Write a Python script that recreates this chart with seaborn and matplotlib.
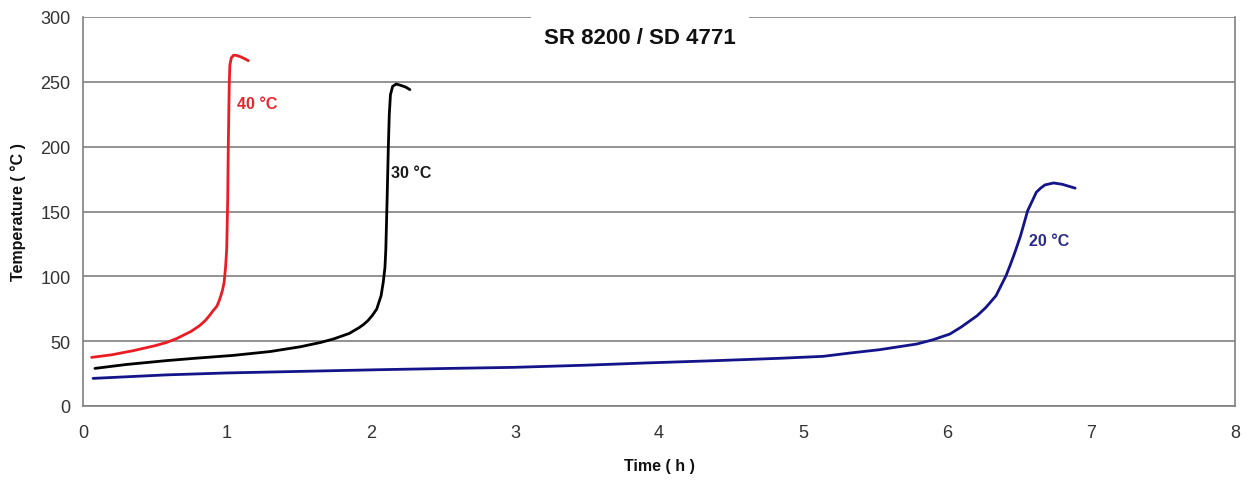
import matplotlib
matplotlib.use("Agg")
import matplotlib.pyplot as plt
import seaborn as sns
import pandas as pd

# ---- data ----
x_40 = [0.06, 0.2, 0.35, 0.5, 0.58, 0.65, 0.75, 0.81, 0.85, 0.88, 0.9, 0.93, 0.945, 0.96,
        0.97, 0.98, 0.99, 0.998, 1.005, 1.009, 1.013, 1.016, 1.02, 1.03, 1.045, 1.06,
        1.09, 1.12, 1.148]
y_40 = [37.5, 39.5, 42.7, 46.5, 49, 52, 57.5, 62, 66, 70, 73, 77, 81, 86,
        90, 95.4, 107, 121, 160, 200, 230, 250, 263, 268.5, 270.5, 270.5,
        269.5, 268, 266.3]

x_30 = [0.083, 0.3, 0.58, 0.8, 1.04, 1.3, 1.51, 1.65, 1.74, 1.85, 1.88, 1.92, 1.95, 1.98,
        2.01, 2.04, 2.055, 2.07, 2.085, 2.097, 2.103, 2.112, 2.12, 2.127, 2.135, 2.15,
        2.175, 2.2, 2.24, 2.27]
y_30 = [29, 32, 35, 37, 39, 42, 45.7, 49, 51.7, 56, 58, 60.6, 63, 66,
        70, 74.8, 80, 85, 95.4, 107, 121, 160, 198, 225, 240, 246.5,
        248.3, 247.5, 246, 244]

x_20 = [0.07, 0.58, 1.0, 1.51, 2.06, 2.55, 2.99, 3.5, 3.91, 4.4, 4.84, 5.14, 5.33,
        5.53, 5.79, 5.9, 6.02, 6.1, 6.21, 6.27, 6.34, 6.41, 6.44, 6.47, 6.51, 6.56,
        6.6, 6.62, 6.65, 6.68, 6.74, 6.8, 6.89]
y_20 = [21.3, 24, 25.5, 26.7, 28, 29, 29.8, 31.5, 33.2, 35, 36.8, 38.3, 40.9,
        43.4, 47.8, 51, 55.5, 61, 69.7, 76, 85, 100.5, 109, 118, 131, 150.6,
        160, 164.8, 168, 170.5, 172, 171, 168]

series_labels = ["40 °C", "30 °C", "20 °C"]
title_text = "SR 8200 / SD 4771"
x_label = "Time ( h )"
y_label = "Temperature ( °C )"
x_ticks = [0, 1, 2, 3, 4, 5, 6, 7, 8]
y_ticks = [0, 50, 100, 150, 200, 250, 300]

# ---- styling ----
sns.set_theme(style="white")
plt.rcParams["font.family"] = ["Liberation Sans", "DejaVu Sans"]

fig = plt.figure(figsize=(12.48, 4.81), dpi=100)
ax = fig.add_axes([83 / 1248, 1 - 407 / 481, (1235 - 83) / 1248, (407 - 18) / 481])

colors = ["#ec1c24", "#000000", "#14148a"]
text_colors = ["#e8262a", "#1a1a1a", "#2a2a8c"]

df40 = pd.DataFrame({"t": x_40, "T": y_40})
df30 = pd.DataFrame({"t": x_30, "T": y_30})
df20 = pd.DataFrame({"t": x_20, "T": y_20})

for df, c in zip([df40, df30, df20], colors):
    sns.lineplot(data=df, x="t", y="T", ax=ax, color=c, linewidth=2.0,
                 sort=False, estimator=None, zorder=4)

ax.set_xlim(0, 8)
ax.set_ylim(0, 300)
ax.set_xticks(x_ticks)
ax.set_yticks(y_ticks)
ax.tick_params(axis="both", labelsize=13, length=5, width=1.0, direction="out")
ax.tick_params(axis="x", colors="#808080", labelcolor="#333333", pad=8)
ax.tick_params(axis="y", colors="#808080", labelcolor="#333333", pad=4)

ax.yaxis.grid(True, color="#808080", linewidth=1.2)
ax.xaxis.grid(False)
for s in ["left", "bottom", "right"]:
    ax.spines[s].set_visible(True)
    ax.spines[s].set_color("#808080")
    ax.spines[s].set_linewidth(1.2)
ax.spines["top"].set_visible(False)

ax.set_xlabel(x_label, fontsize=11.5, fontweight="bold", color="#111111", labelpad=12)
ax.set_ylabel(y_label, fontsize=11.5, fontweight="bold", color="#111111", labelpad=10)

# series labels
ax.text(1.07, 233, series_labels[0], color=text_colors[0], fontsize=11.5,
        fontweight="bold", va="center", ha="left", zorder=5)
ax.text(2.14, 180, series_labels[1], color=text_colors[1], fontsize=11.5,
        fontweight="bold", va="center", ha="left", zorder=5)
ax.text(6.57, 128, series_labels[2], color=text_colors[2], fontsize=11.5,
        fontweight="bold", va="center", ha="left", zorder=5)

# title with white box interrupting the top line
ax.text(3.87, 284, title_text, fontsize=16, fontweight="bold", color="#111111",
        ha="center", va="center", zorder=6, clip_on=False,
        bbox=dict(boxstyle="square,pad=0.6", facecolor="white", edgecolor="none"))

fig.savefig("out.png", dpi=100)
